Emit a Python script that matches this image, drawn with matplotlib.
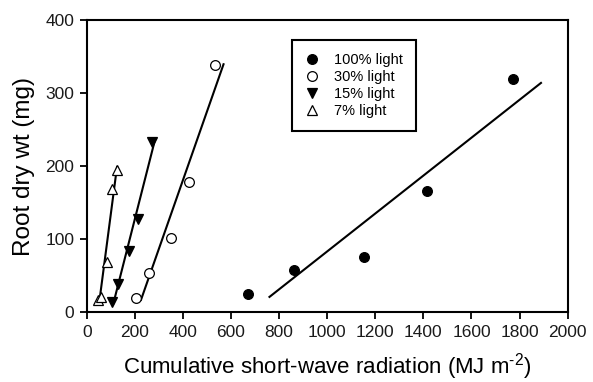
#!/usr/bin/env python3
"""
Root dry weight vs cumulative short-wave radiation at four light levels.
"""

import numpy as np
import matplotlib
matplotlib.use("Agg")
import matplotlib.pyplot as plt

plt.rcParams['font.family'] = ['Liberation Sans', 'DejaVu Sans']
plt.rcParams['mathtext.fontset'] = 'custom'
plt.rcParams['mathtext.rm'] = 'Liberation Sans'

# Cumulative short-wave radiation (MJ m-2) and root dry wt (mg)
x_100 = [672, 863, 1154, 1416, 1771]
y_100 = [24, 57.5, 76, 166, 319]

x_30 = [203, 261, 350, 427, 534]
y_30 = [18.7, 54, 101, 178, 339]

x_15 = [104, 131, 176, 212, 270]
y_15 = [14, 39, 84, 127, 233]

x_7 = [48, 59, 83, 104, 127]
y_7 = [16, 21, 69, 168, 195]

# x extent over which each fitted line is drawn
fit_range_100 = [760, 1889]
fit_range_30 = [226, 569]
fit_range_15 = [111, 285]
fit_range_7 = [51, 126]

labels = ['100% light', '30% light', '15% light', '7% light']

fig = plt.figure(figsize=(5.93, 3.82), dpi=100)
ax = fig.add_axes([0.1462, 0.1832, 0.8111, 0.7644])

series = [
    (x_100, y_100, fit_range_100, 'o', 'black'),
    (x_30, y_30, fit_range_30, 'o', 'white'),
    (x_15, y_15, fit_range_15, 'v', 'black'),
    (x_7, y_7, fit_range_7, '^', 'white'),
]

for (xs, ys, rng, marker, face), label in zip(series, labels):
    ax.plot(xs, ys, linestyle='none', marker=marker, markersize=7,
            markerfacecolor=face, markeredgecolor='black',
            markeredgewidth=0.9, label=label, zorder=3)
    # least-squares line over the drawn range
    slope, intercept = np.polyfit(xs, ys, 1)
    xr = np.array(rng)
    ax.plot(xr, slope * xr + intercept, color='black', linewidth=1.5, zorder=2)

ax.set_xlim(0, 2000)
ax.set_ylim(0, 400)
ax.set_xticks(np.arange(0, 2001, 200))
ax.set_yticks(np.arange(0, 401, 100))
ax.tick_params(direction='out', length=5, width=1.3, labelsize=12.5,
               pad=4, colors='black', labelcolor='#1a1a1a')
for spine in ax.spines.values():
    spine.set_linewidth(1.5)

ax.set_xlabel(r'Cumulative short-wave radiation (MJ m$^{\text{-2}}$)',
              fontsize=16, labelpad=8)
ax.set_ylabel('Root dry wt (mg)', fontsize=17.5, labelpad=7)

leg = ax.legend(loc='upper left', bbox_to_anchor=(0.426, 0.931),
                fontsize=10.5, frameon=True, fancybox=False, framealpha=1,
                edgecolor='black', handlelength=1.0, handletextpad=1.0,
                labelspacing=0.2, borderpad=0.9, borderaxespad=0)
leg.get_frame().set_linewidth(1.5)

plt.savefig('out.png', dpi=100)
plt.close()
